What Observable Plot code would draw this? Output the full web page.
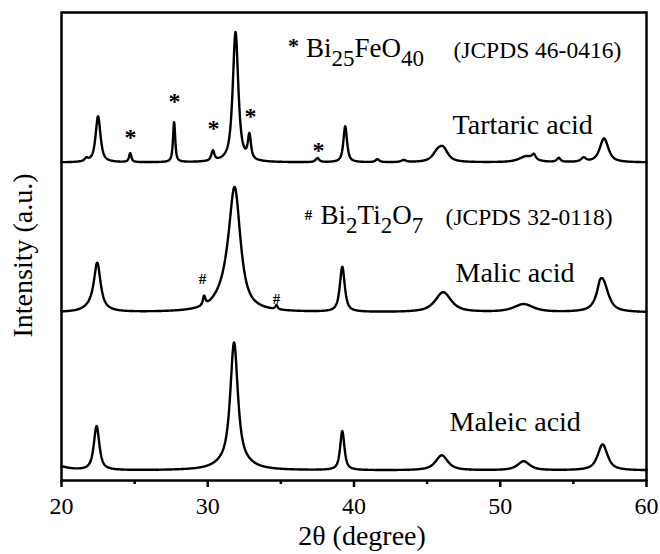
<!DOCTYPE html>
<html>
<head>
<meta charset="utf-8">
<script src="https://cdn.jsdelivr.net/npm/d3@7"></script>
<script src="https://cdn.jsdelivr.net/npm/@observablehq/plot@0.6"></script>
<style>
  body { margin: 0; background: #fff; }
  #chart svg { display: block; }
  #chart svg, #chart svg text { font-family: "Liberation Serif", "Times New Roman", serif !important; }
</style>
</head>
<body>
<div id="chart"></div>
<script>
// XRD patterns of the powders made with three chelating acids (stacked, offset vertically).
// Each pattern: a flat background level plus a list of reflections [2θ, height, FWHM].
const samples = ["Tartaric acid", "Malic acid", "Maleic acid"];
const backgrounds = [318, 168, 10];

const tartaricPeaks = [
  [21.7, 3, 0.3], [22.5, 46, 0.4], [24.7, 9, 0.2], [27.7, 40, 0.18], [30.35, 10, 0.25],
  [31.9, 130, 0.45], [32.85, 24, 0.25], [37.5, 4, 0.3], [39.4, 36, 0.3], [41.6, 3, 0.3],
  [43.4, 2, 0.4], [45.7, 8, 0.8], [46.1, 12, 0.8], [51.8, 6, 1.2], [52.3, 5, 0.3],
  [54.0, 4, 0.3], [55.7, 4, 0.4], [57.1, 24, 0.7]
];
const malicPeaks = [
  [22.3, 10, 1.2], [22.45, 40, 0.5], [29.75, 9, 0.2], [31.4, 22, 1.7], [31.85, 108, 0.9],
  [34.7, 4, 0.2], [39.2, 45, 0.4], [46.1, 20, 1.3], [51.6, 8, 1.6], [56.8, 5, 0.3], [57.0, 32, 0.9]
];
const maleicPeaks = [
  [19.8, 4, 1.5], [22.4, 44, 0.45], [31.8, 12, 2.0], [31.8, 116, 0.6], [39.2, 39, 0.35],
  [46.0, 15, 1.0], [51.6, 9, 1.0], [57.0, 26, 0.8]
];
const peakLists = [tartaricPeaks, malicPeaks, maleicPeaks];

// Sample name labels: [2θ of left edge, intensity of baseline]
const nameX = [46.74, 46.94, 46.53];
const nameY = [347, 199, 50];

// Phase markers above the impurity reflections
const markSymbols = ["*", "*", "*", "*", "*", "#", "#"];
const markX = [24.72, 27.73, 30.39, 32.92, 37.57, 29.64, 34.70];
const markY = [343, 379, 352, 364, 330, 201, 181];

// Phase keys: marker, formula pieces ([text, isSubscript]), JCPDS card
const keySymbols = ["*", "#"];
const keySymbolX = [35.86, 36.89];
const keySymbolY = [435, 265];
const keyFormulas = [
  [["Bi", 0], ["25", 1], ["FeO", 0], ["40", 1]],
  [["Bi", 0], ["2", 1], ["Ti", 0], ["2", 1], ["O", 0], ["7", 1]]
];
const keyFormulaX = [36.75, 37.75];
const keyY = [423, 256];
const keyCards = ["(JCPDS 46-0416)", "(JCPDS 32-0118)"];
const keyCardX = [46.8, 46.26];

const xTicks = [20, 30, 40, 50, 60];
const xMinorTicks = [25, 35, 45, 55];

// Pseudo-Voigt line profile
const eta = 0.8;
function profile(t, [c, h, w]) {
  const u = (2 * (t - c)) / w;
  return h * (eta / (1 + u * u) + (1 - eta) * Math.exp(-Math.LN2 * u * u));
}
const grid = d3.range(20, 60.0001, 0.02);
const patterns = samples.flatMap((name, i) =>
  grid.map((t) => ({
    sample: name,
    angle: t,
    intensity: backgrounds[i] + d3.sum(peakLists[i], (p) => profile(t, p))
  }))
);

const font = "Liberation Serif";

const plot = Plot.plot({
  width: 660,
  height: 554,
  marginLeft: 61,
  marginRight: 14,
  marginTop: 12,
  marginBottom: 74,
  style: { fontFamily: font, fontSize: "24px", color: "#000", background: "#fff" },
  x: { domain: [20, 60] },
  y: { domain: [0, 468] },
  marks: [
    Plot.line(patterns, { x: "angle", y: "intensity", z: "sample", stroke: "#000", strokeWidth: 2.4, strokeLinejoin: "round" }),
    Plot.axisX({ ticks: xMinorTicks, tickSize: 4, strokeWidth: 2.5, text: null, label: null }),
    Plot.axisX({ ticks: xTicks, tickSize: 7, tickPadding: 9, strokeWidth: 2.5, fontSize: 24, fontFamily: font, label: null }),
    Plot.axisY({ ticks: [], label: null }),
    Plot.frame({ stroke: "#000", strokeWidth: 2.5 }),
    Plot.text(["2θ (degree)"], { frameAnchor: "bottom", dx: 8, dy: 56, fontSize: 28, fontFamily: font, textAnchor: "middle", lineAnchor: "middle" }),
    Plot.text(["Intensity (a.u.)"], { frameAnchor: "left", dx: -38, dy: 9, rotate: -90, fontSize: 28, fontFamily: font, textAnchor: "middle", lineAnchor: "middle" }),
    Plot.text(samples, { x: (d, i) => nameX[i], y: (d, i) => nameY[i], text: (d) => d, textAnchor: "start", lineAnchor: "bottom", fontSize: 28, fontFamily: font }),
    Plot.text(markSymbols, { x: (d, i) => markX[i], y: (d, i) => markY[i], text: (d) => d, lineAnchor: "middle", fontSize: (d) => (d === "*" ? 24 : 15), fontWeight: "bold", fontFamily: font }),
    Plot.text(keySymbols, { x: (d, i) => keySymbolX[i], y: (d, i) => keySymbolY[i], text: (d) => d, lineAnchor: "middle", fontSize: (d) => (d === "*" ? 22 : 15), fontWeight: "bold", fontFamily: font }),
    Plot.text(keyCards, { x: (d, i) => keyCardX[i], y: (d, i) => keyY[i], text: (d) => d, textAnchor: "start", lineAnchor: "bottom", fontSize: 23.5, fontFamily: font })
  ]
});

// Chemical formulas with subscripts, placed through the plot's own scales
const sx = plot.scale("x"), sy = plot.scale("y");
const svg = d3.select(plot);
keyFormulas.forEach((pieces, i) => {
  const t = svg.append("text")
    .attr("x", sx.apply(keyFormulaX[i]))
    .attr("y", sy.apply(keyY[i]))
    .attr("text-anchor", "start")
    .attr("font-family", font)
    .attr("font-size", 27)
    .attr("fill", "#000");
  let down = false;
  pieces.forEach(([s, sub]) => {
    const span = t.append("tspan").text(s);
    if (sub && !down) { span.attr("dy", 9).attr("font-size", 23); down = true; }
    else if (sub) span.attr("font-size", 23);
    else if (!sub && down) { span.attr("dy", -9); down = false; }
  });
});

document.getElementById("chart").append(plot);
</script>
</body>
</html>
